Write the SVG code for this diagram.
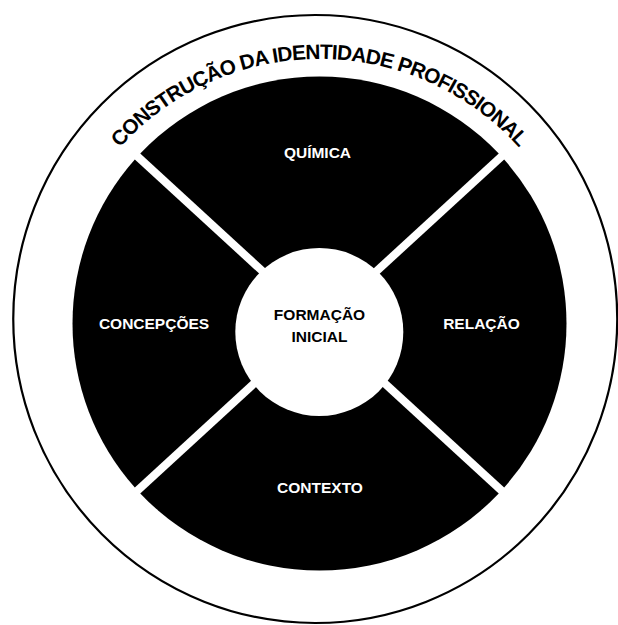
<svg xmlns="http://www.w3.org/2000/svg" xmlns:xlink="http://www.w3.org/1999/xlink" width="618" height="625" viewBox="0 0 618 625">
  <style>
    .seg { fill: #000; }
    .lbl { font-family: "Liberation Sans", Arial, sans-serif; font-weight: bold; font-size: 15.5px; text-anchor: middle; }
    .lbl-w { fill: #fff; }
    .lbl-k { fill: #000; }
    .ring { fill: none; stroke: #000; stroke-width: 2.2; }
    .title { font-family: "Liberation Sans", Arial, sans-serif; font-weight: bold; font-size: 20.8px; fill: #000; }
  </style>
  <defs>
    <!-- baseline arc for the outer title -->
    <path id="titleArc" d="M 66.7 236 A 269 269 0 0 1 572.3 236"/>
  </defs>
  <rect width="618" height="625" fill="#fff"/>

  <!-- outer ring with curved title -->
  <g id="identidade">
    <ellipse class="ring" cx="315.25" cy="319" rx="302" ry="304"/>
    <text class="title"><textPath xlink:href="#titleArc" href="#titleArc" startOffset="50%" text-anchor="middle" textLength="450" lengthAdjust="spacing">CONSTRUÇÃO DA IDENTIDADE PROFISSIONAL</textPath></text>
  </g>

  <!-- four quadrant segments separated by white gaps -->
  <g id="quimica">
    <path class="seg" d="M 140.24 153.57 A 247 247 0 0 1 498.76 153.57 L 319.5 318.07 Z"/>
    <text class="lbl lbl-w" x="317.5" y="158">QUÍMICA</text>
  </g>
  <g id="relacao">
    <path class="seg" d="M 504.17 159.47 A 247 247 0 0 1 504.17 487.53 L 325.42 323.5 Z"/>
    <text class="lbl lbl-w" x="481.5" y="328.5">RELAÇÃO</text>
  </g>
  <g id="contexto">
    <path class="seg" d="M 498.76 493.43 A 247 247 0 0 1 140.24 493.43 L 319.5 328.93 Z"/>
    <text class="lbl lbl-w" x="320" y="492.5">CONTEXTO</text>
  </g>
  <g id="concepcoes">
    <path class="seg" d="M 134.83 487.53 A 247 247 0 0 1 134.83 159.47 L 313.58 323.5 Z"/>
    <text class="lbl lbl-w" x="154" y="329">CONCEPÇÕES</text>
  </g>

  <!-- central hub -->
  <g id="formacao-inicial">
    <circle cx="319.3" cy="332" r="84" fill="#fff"/>
    <text class="lbl lbl-k" x="319.5" y="320">FORMAÇÃO</text>
    <text class="lbl lbl-k" x="319.5" y="342">INICIAL</text>
  </g>

  <!-- no connectors: segments touch the hub directly -->
  <g id="connectors"/>
</svg>
